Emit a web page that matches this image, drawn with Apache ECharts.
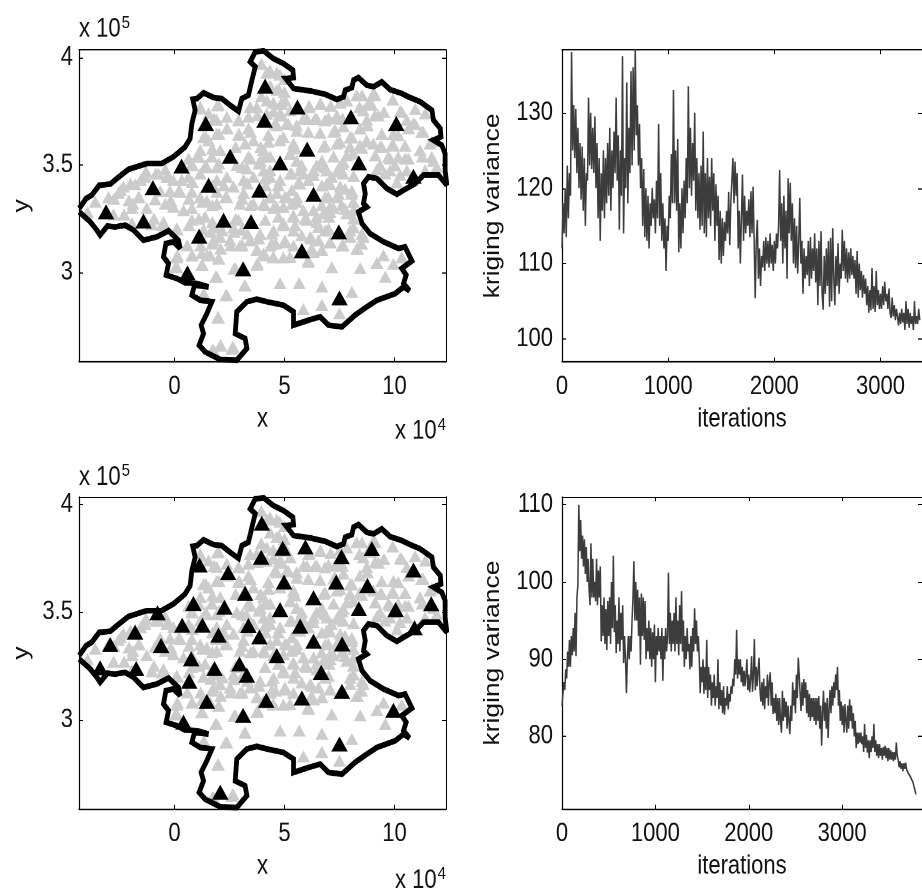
<!DOCTYPE html>
<html><head><meta charset="utf-8">
<style>html,body{margin:0;padding:0;background:#fff;width:922px;height:888px;overflow:hidden}#w{position:relative;width:922px;height:888px;overflow:hidden}#c{position:absolute;left:0;top:0;width:922px;height:740px;transform:scaleY(1.2);transform-origin:0 0}</style>
<script src="https://cdn.jsdelivr.net/npm/echarts@6/dist/echarts.min.js"></script>
</head><body><div id="w"><div id="c"></div></div>
<script>
const mapXTicks=[0,5,10], mapYTicks=[3,3.5,4];
const iterTicks=[0,1000,2000,3000];
const varTicksA=[100,110,120,130], varTicksB=[80,90,100,110];
const iterStep=10;
const boundary=[[-4.33,3.298],[-4.02,3.344],[-3.76,3.36],[-3.42,3.406],[-2.92,3.411],[-2.62,3.437],[-2.09,3.48],[-1.26,3.507],[-0.58,3.507],[-0.05,3.538],[0.48,3.584],[0.71,3.623],[0.79,3.693],[0.94,3.755],[0.83,3.806],[1.02,3.809],[1.32,3.836],[1.77,3.814],[2.15,3.809],[2.53,3.778],[2.91,3.75],[3.06,3.809],[3.36,3.825],[3.52,3.895],[3.67,3.957],[3.44,3.98],[3.67,4.026],[4.05,4.031],[4.5,3.995],[4.95,3.972],[5.38,3.941],[5.41,3.907],[5.06,3.902],[5.41,3.856],[6.17,3.845],[6.85,3.829],[7.38,3.805],[7.68,3.817],[7.76,3.848],[8.06,3.86],[8.14,3.895],[8.36,3.907],[8.74,3.871],[9.05,3.864],[9.42,3.887],[9.8,3.851],[10.33,3.833],[10.64,3.817],[11.17,3.794],[11.7,3.755],[11.77,3.709],[12.08,3.67],[12.11,3.631],[11.77,3.616],[12.15,3.592],[12.3,3.553],[12.3,3.476],[12.38,3.406],[12.0,3.453],[11.32,3.453],[10.94,3.414],[10.41,3.383],[10.11,3.364],[9.65,3.391],[9.2,3.437],[8.82,3.445],[8.59,3.414],[8.67,3.367],[8.59,3.321],[8.74,3.305],[8.36,3.282],[8.52,3.228],[8.89,3.181],[9.5,3.143],[10.18,3.112],[10.48,3.119],[10.79,3.054],[10.33,3.019],[10.53,2.988],[10.41,2.949],[10.68,2.915],[10.41,2.933],[10.03,2.902],[9.2,2.871],[8.74,2.84],[8.21,2.802],[7.61,2.747],[7.0,2.755],[6.62,2.794],[6.09,2.778],[5.41,2.755],[5.41,2.817],[4.95,2.848],[4.2,2.864],[3.74,2.876],[3.29,2.864],[2.83,2.817],[2.76,2.716],[3.21,2.693],[3.29,2.647],[2.83,2.592],[2.08,2.595],[1.39,2.631],[1.12,2.662],[1.32,2.716],[1.21,2.755],[1.47,2.809],[1.7,2.864],[1.17,2.871],[0.79,2.895],[0.91,2.941],[1.55,2.933],[1.02,2.949],[0.48,2.952],[0.11,2.972],[-0.38,2.988],[-0.27,3.042],[-0.5,3.073],[-0.39,3.135],[-0.05,3.143],[0.26,3.112],[0.18,3.15],[-0.27,3.194],[-0.8,3.166],[-1.41,3.15],[-1.86,3.197],[-2.24,3.22],[-2.7,3.212],[-3.05,3.216],[-3.38,3.174],[-3.53,3.197],[-3.83,3.236],[-4.33,3.282]];
const grayPoints=[[-3.95,3.28],[-3.6,3.33],[-2.77,3.27],[-3.0,3.35],[-2.55,3.37],[-2.32,3.4],[-1.79,3.41],[-1.33,3.445],[-1.89,3.32],[-2.29,3.27],[-1.64,3.35],[-1.26,3.3],[-0.88,3.34],[-0.42,3.32],[-0.65,3.38],[-0.2,3.38],[-0.05,3.305],[-0.5,3.235],[-1.03,3.225],[-1.94,3.23],[0.1,3.205],[0.41,3.29],[0.79,3.3],[0.26,3.375],[0.79,3.375],[0.33,3.43],[-0.35,3.445],[-0.73,3.46],[-1.3,3.47],[-0.42,3.48],[-0.05,3.43],[0.64,3.445],[0.79,3.505],[1.02,3.54],[0.64,3.53],[1.17,3.46],[1.17,3.35],[1.47,3.335],[1.92,3.375],[2.38,3.35],[1.92,3.43],[2.38,3.445],[2.68,3.4],[3.14,3.43],[3.59,3.445],[3.14,3.37],[2.98,3.32],[1.92,3.32],[1.39,3.26],[0.79,3.245],[1.32,3.2],[1.85,3.21],[2.91,3.245],[2.68,3.21],[3.06,3.2],[1.77,3.15],[2.08,3.165],[2.53,3.15],[2.98,3.125],[3.44,3.15],[3.89,3.18],[3.74,3.105],[4.35,3.125],[4.5,3.07],[4.12,3.08],[5.03,3.14],[4.95,3.07],[5.41,3.125],[6.09,3.05],[6.32,3.095],[6.7,3.105],[7.08,3.14],[7.61,3.125],[8.32,3.11],[8.52,3.18],[8.14,3.21],[8.14,3.29],
[0.11,3.07],[0.79,3.08],[1.24,3.035],[0.11,3.025],[1.24,3.09],[1.62,3.08],[2.0,3.065],[2.76,3.02],[1.92,2.98],[3.21,2.94],[2.38,2.895],[4.8,2.95],[5.67,2.95],[6.7,2.935],[8.06,2.91],[7.15,3.025],[8.44,3.02],[9.58,2.98],[9.2,3.045],[9.95,3.04],[9.5,3.08],[10.33,3.07],[5.86,2.83],[6.7,2.85],[7.5,2.81],[2.0,2.79],[2.08,2.66],[1.77,2.64],[2.6,2.645],[3.74,3.035],[1.32,2.9],
[3.95,3.97],[4.2,3.93],[4.65,3.93],[5.0,3.9],[4.35,3.87],[4.75,3.85],[5.0,3.84],[3.95,3.82],
[2.0,3.78],[1.17,3.77],[1.55,3.74],[1.92,3.71],[2.38,3.725],[2.91,3.71],[3.36,3.725],[3.74,3.77],[3.44,3.77],[4.2,3.8],[4.65,3.85],[4.83,3.785],[5.03,3.8],[5.26,3.755],[4.5,3.75],[4.88,3.73],[6.09,3.77],[6.62,3.785],[7.1,3.775],[7.53,3.79],[7.83,3.8],[8.52,3.825],[9.12,3.825],[9.92,3.805],[8.97,3.78],[8.41,3.77],[7.38,3.73],[6.47,3.715],[7.0,3.72],[6.02,3.715],[9.27,3.73],[8.74,3.71],[10.94,3.76],[10.26,3.75],[10.94,3.69],[10.56,3.71],[11.4,3.74],
[1.32,3.63],[1.92,3.645],[1.55,3.615],[2.38,3.67],[2.91,3.64],[3.36,3.67],[3.59,3.615],[3.21,3.6],[4.65,3.685],[5.18,3.69],[4.27,3.64],[4.95,3.63],[5.56,3.66],[5.41,3.6],[6.62,3.65],[7.23,3.655],[7.68,3.68],[8.06,3.63],[8.77,3.685],[8.74,3.61],[9.42,3.645],[9.95,3.645],[10.64,3.67],[11.3,3.655],[10.48,3.59],[9.88,3.59],[9.35,3.585],[11.7,3.61],[8.52,3.58],[7.98,3.585],[7.38,3.6],[6.77,3.585],
[1.17,3.57],[1.7,3.54],[2.08,3.57],[3.36,3.54],[4.05,3.57],[3.89,3.52],[4.35,3.54],[5.26,3.55],[5.56,3.52],[6.7,3.52],[7.23,3.54],[7.83,3.545],[7.61,3.505],[9.12,3.545],[9.8,3.53],[10.48,3.53],[11.26,3.54],[11.77,3.52],[11.92,3.49],[11.39,3.475],[9.2,3.48],[9.8,3.475],[10.56,3.475],[10.11,3.42],[2.83,3.5],[3.29,3.485],[4.05,3.475],[1.92,3.49],[1.47,3.49],[5.71,3.475],[6.32,3.475],[6.92,3.475],[7.45,3.47],[8.14,3.45],
[4.35,3.445],[4.8,3.43],[5.26,3.46],[5.64,3.42],[6.09,3.43],[6.7,3.405],[7.08,3.41],[7.53,3.4],[8.06,3.38],[7.38,3.35],[6.85,3.35],[5.56,3.35],[5.11,3.35],[4.65,3.37],[4.35,3.35],[4.05,3.32],[3.59,3.32],[4.5,3.3],[4.95,3.305],[5.33,3.32],[5.86,3.29],[6.32,3.29],[6.77,3.275],[7.23,3.3],[7.83,3.275],[5.41,3.26],[6.02,3.245],[4.95,3.23],[4.12,3.245],[4.5,3.195],[6.47,3.235],[7.02,3.26],[6.85,3.195],[6.17,3.165],[5.41,3.195],[7.98,3.195],[6.55,3.15],[4.59,3.135],
[4.34,3.94],[4.79,3.92],[4.49,3.79],[4.87,3.786],[6.13,3.774],[6.64,3.786],[8.28,3.825],[9.04,3.832],[8.81,3.786],[10.33,3.747],[9.52,3.747],[8.58,3.755],[9.11,3.732],[5.86,3.716],[6.39,3.716],[6.84,3.708],[7.3,3.716],[7.64,3.716],[4.79,3.739],[4.57,3.693],[5.1,3.693],[5.55,3.685],[4.19,3.739],[6.08,3.654],[7.3,3.662],[8.43,3.67],[10.17,3.639],[10.86,3.693],[11.23,3.654],[11.61,3.6],[4.27,3.608],[4.79,3.615],[5.48,3.577],[6.84,3.592],[7.52,3.608],[7.98,3.628],[8.73,3.615],[9.04,3.6],[8.43,3.592],[9.42,3.584],[9.95,3.592],[11.16,3.569],[11.69,3.538],[4.11,3.538],[4.34,3.476],[5.25,3.553],[5.78,3.499],[6.84,3.491],[6.46,3.499],[5.33,3.46],[5.86,3.46],[6.31,3.453],[6.92,3.414],[7.45,3.484],[7.67,3.515],[8.13,3.553],[9.72,3.538],[10.17,3.538],[10.63,3.53],[9.34,3.499],[10.02,3.499],[9.57,3.46],[10.25,3.453],[7.14,3.445],[7.67,3.46],[7.75,3.39],[8.05,3.367],[7.45,3.367],[6.99,3.352],[5.33,3.383],[4.72,3.406],[4.11,3.437],[4.34,3.352],[5.02,3.352],[5.7,3.414],[4.11,3.313],[4.64,3.305],[5.55,3.329],[6.69,3.313],[7.07,3.305],[7.6,3.313],[8.13,3.329],
[1.19,3.763],[1.95,3.778],[1.8,3.716],[2.4,3.67],[2.93,3.708],[2.93,3.646],[3.46,3.654],[1.42,3.631],[2.02,3.646],[3.77,3.732],[1.72,3.577],[1.11,3.538],[1.42,3.499],[2.02,3.507],[3.08,3.491],[3.46,3.53],[3.84,3.507],[3.92,3.584],[2.78,3.584],[0.81,3.499],[0.81,3.422],[0.21,3.383],[-0.25,3.445],[-0.85,3.46],[-1.54,3.43],[-2.0,3.414],[-2.45,3.383],[-2.75,3.344],[-2.07,3.336],[-1.61,3.352],[-0.17,3.336],[0.66,3.344],[1.27,3.329],[1.72,3.313],[2.33,3.352],[3.08,3.344],[2.25,3.406],[3.31,3.414],[4.14,3.406],[3.46,3.313],[1.72,3.406],
[-1.92,3.3],[-0.93,3.25],[-0.55,3.22],[0.13,3.2],[0.66,3.22],[1.11,3.25],[1.72,3.235],[1.65,3.19],[2.17,3.197],[2.78,3.25],[2.71,3.189],[3.31,3.181],[3.84,3.158],[3.08,3.127],[2.55,3.127],[2.1,3.111],[1.72,3.135],[1.19,3.127],[0.58,3.127],[0.13,3.08],[0.81,3.08],[1.49,3.08],[3.77,3.104],[2.02,3.065],[1.27,3.034],[2.71,3.018],[3.77,3.042],[0.05,3.026],[1.87,2.98],[3.19,2.941],[2.33,2.894],[1.34,2.902],[1.98,2.794],[2.1,2.662],[2.66,2.654],[1.72,2.639],
[4.49,3.073],[5.25,3.073],[6.08,3.057],[6.69,3.104],[6.23,3.111],[7.07,3.142],[7.67,3.127],[8.28,3.111],[8.51,3.135],[8.58,3.166],[7.98,3.166],[4.42,3.135],[5.02,3.15],[5.78,3.173],[6.23,3.158],[4.04,3.088],[4.42,3.181],[4.95,3.22],[5.48,3.22],[5.93,3.251],[6.46,3.259],[7.0,3.204],[6.54,3.212],[5.4,3.266],[4.72,3.259],[7.07,3.282],[7.75,3.297],[8.13,3.251]];
const blackPointsA=[[4.12,3.867],[5.59,3.77],[8.02,3.724],[10.08,3.693],[4.09,3.709],[1.42,3.693],[6.03,3.574],[2.53,3.541],[4.8,3.51],[8.38,3.51],[10.86,3.448],[0.32,3.495],[-0.98,3.395],[1.55,3.406],[3.86,3.383],[6.32,3.364],[-3.11,3.282],[-1.41,3.24],[2.23,3.243],[3.48,3.236],[7.47,3.189],[1.12,3.169],[5.79,3.101],[3.12,3.017],[0.59,2.998],[7.5,2.882]];
const blackPointsB=[[3.97,3.913],[4.92,3.797],[5.95,3.803],[8.97,3.795],[7.59,3.758],[3.94,3.755],[1.14,3.719],[2.44,3.683],[10.86,3.696],[4.98,3.64],[7.35,3.64],[8.77,3.624],[3.21,3.587],[6.32,3.567],[0.86,3.54],[2.27,3.523],[4.8,3.512],[8.38,3.516],[10.05,3.512],[11.67,3.539],[-0.77,3.497],[0.35,3.439],[1.27,3.439],[3.36,3.438],[5.71,3.435],[10.91,3.427],[-1.79,3.407],[2.0,3.393],[3.86,3.385],[6.32,3.365],[-2.92,3.349],[-0.61,3.345],[7.62,3.352],[4.65,3.298],[0.76,3.283],[2.95,3.259],[1.82,3.238],[-3.38,3.241],[-1.74,3.238],[3.29,3.207],[6.67,3.22],[0.67,3.179],[7.61,3.132],[1.47,3.085],[4.17,3.09],[5.79,3.101],[3.12,3.02],[9.95,3.043],[0.41,2.989],[7.5,2.887],[2.08,2.663]];
const varianceA=[112,118,114,120,113.5,123,116,122,119,138,
125,131,124,130.5,122,128,120,126,118.5,125.5,
117,124,115,122,121,132,123,130,122.5,128,
122,129.5,120,126,116,124,113,122,117,125,
116,124,118,126,119,128,117,125,120,127.5,
122,132,121,127,114.5,125,119,137.5,114,124,
120,134,118,128,122,135.5,123,136,125,138.5,
127,131,123,128.5,120,124,115,122.5,113.5,120,
113,119,112,118,115,120,116,118.5,114,121,
116,128.5,115,122,113,118,112,116,109,115,
113,119,116,124.5,118,133,118,125,117,126.5,
111.5,118,112,120,114,121,116,124,118,133.5,
120,128,119,126,121,130,117,124,116,122,
114.5,123,115,127.5,114,122,113.5,124,116,121.5,
115,124,117,122,113,120.5,115,119,110.5,117,
110,116,111,115.5,113,117,114,119.5,112.5,118,
118,124,118,123.5,119,122,112,117,110,116,
121.8,113,119,114,117,115,118.5,113.5,119.6,114,
120.2,113,105.4,113,115.8,108,112,107,111,109.5,
113,109,113.5,110,113,109.5,114,110,112.5,109,
113,110,114,112,115,122.4,113,118,110,119,
112,117,108,121.3,114,120.7,113,118,110,116,
109.4,115,108.7,113,118.7,110,113,106,112,108,
111,108.5,113,107,113.5,108,112,109,114,107.5,
112,104.5,113,107,114.3,106,103.9,111,106,112,
107,113,104.3,113.4,105,114.7,108,104.5,111,107,
112.7,106,110,108,114.5,109,113,108,112,107.5,
111.5,108,112,108.5,111,108,110.5,106,111.7,105.5,
110,106.5,109,105.5,108.5,106,108,104.5,107,103.5,
106.5,103.8,109.4,104,107,103.6,109,104.5,106.5,104,
106,104,107,104.5,107.6,105,106,104,106.7,103.5,
102.8,105.5,103,104.5,102.5,104,103,101.8,103.5,102,
104,102.2,103.5,101.2,105,102,104,101.5,103.5,102,
103,101.2,105,102,103,102,104,102.5];
const varianceB=[84,85.5,87,86,88.7,87.5,91,89,92.5,89,
93,90.5,94,91,96,90.4,98,99.6,110,104,
108,103,106,102,105.5,101,104.5,100,103,99,
97,105,98,103,98,100,97.5,103,97,101.5,
98,102,92.3,97,93,98,92,96.5,91.2,97.5,
93,98,92,100,94,103.4,93.5,97,90.8,95,
92,98,91,96,92.5,97,89.5,93,90,85.6,
90,93,90,93,91,95,98,102.7,95,100,
95,99,93,98,89.3,98.5,93,98,92.5,97.5,
90,94,91,95,90,94,89,93.5,90,94.5,
87,93,90.5,94,91,93,90,94,87.2,93,
90,94,91,93,101.2,92,96,91,95,92,
96,91,98,92,95,90.5,97,92,98.8,91,
95,89,93,90,94,91,92,88.7,93,89,
94,91,96.6,92,95,91,93,90,85.6,89,
87,90,85.5,89,86,92.5,85,89,86,88,
84,87,85,88,84,86.5,85,90,83.5,87,
84,86,83,86.5,82.8,85,84,86.5,83.5,85.5,
84.5,86.5,85.5,87.5,86.5,90,88,93.8,87.5,90,
88,90,87,89,86.5,88.5,86.5,88,90,86,
88,85.7,87.5,90.4,85.8,88,92.6,86,89,86.5,
88.5,90.2,86,84.5,87,84,87.5,83.5,86.5,85,
88,84,87,88.3,84,87,82.9,85,83,85.5,
82,85,81.5,85,82,80.5,85.9,82,85,82.5,
84.5,81,84,82,80.3,84,82,87,84,86,
83,88,85,90.2,88,85.5,83.3,87,84,87.4,
85,87,83,86,82.5,85.5,82,85,82.5,85,
82,85,81.5,85,82,85.2,81,84,78.8,83,
85.9,82,84.4,81,85,79.8,83.5,86,83,86.5,
84,87,85,88,86,89,84,86,82,84.5,
81.5,84,80.5,84.2,82,80.5,84,81,84.8,82,
84,81,83,80,82,78.5,80.5,79,80.5,79.2,
80.5,79,80,78,81.6,78.5,80.2,77.9,79.5,77.2,
79.5,78,80,78.5,81.6,78,79.5,77.5,79,77.2,
79,77.5,78.5,77,78.6,77.5,78.8,77.2,78.5,76.8,
78.5,77,78.2,77,78,76.8,78,77,79.2,77.5,
77,76,76.8,75.8,76.5,75.5,76.5,75.8,76.6,75.7,
76,75.2,75.5,74.8,75,74.5,74,73.5,73,72.5];

const FONT="'Liberation Sans',Arial,sans-serif";
const FS=22, INK='#111', SY=1.2;
const grids=[
 {left:79,top:50/SY,width:367,height:311.7/SY},
 {left:562,top:50/SY,width:367,height:311.7/SY},
 {left:79,top:497/SY,width:367,height:312/SY},
 {left:562,top:497/SY,width:367,height:312/SY}];
const plain=v=>String(v);
function mainX(g,min,max,ticks,name){return {type:'value',gridIndex:g,min,max,name,nameLocation:'middle',nameGap:37,
 nameTextStyle:{fontFamily:FONT,fontSize:FS,color:INK},splitLine:{show:false},
 axisLine:{show:true,onZero:false,lineStyle:{color:'#000',width:1.2}},
 axisTick:{show:true,inside:true,length:3.5,customValues:ticks,lineStyle:{color:'#000'}},
 axisLabel:{show:true,margin:10,customValues:ticks,formatter:plain,fontFamily:FONT,fontSize:FS,color:INK,hideOverlap:false}};}
function topX(g,min,max,ticks){return {type:'value',gridIndex:g,position:'top',min,max,splitLine:{show:false},
 axisLine:{show:true,onZero:false,lineStyle:{color:'#000',width:1}},
 axisTick:{show:true,inside:true,length:3.5,customValues:ticks,lineStyle:{color:'#000'}},axisLabel:{show:false}};}
function mainY(g,min,max,ticks,name,gap,margin){return {type:'value',gridIndex:g,min,max,name,nameLocation:'middle',nameGap:gap,nameRotate:90,
 nameTextStyle:{fontFamily:FONT,fontSize:FS,color:INK},splitLine:{show:false},
 axisLine:{show:true,onZero:false,lineStyle:{color:'#000',width:1.2}},
 axisTick:{show:true,inside:true,length:4,customValues:ticks,lineStyle:{color:'#000'}},
 axisLabel:{show:true,margin,customValues:ticks,formatter:plain,fontFamily:FONT,fontSize:FS,color:INK,hideOverlap:false}};}
function rightY(g,min,max,ticks){return {type:'value',gridIndex:g,position:'right',min,max,splitLine:{show:false},
 axisLine:{show:true,onZero:false,lineStyle:{color:'#000',width:1}},
 axisTick:{show:true,inside:true,length:4,customValues:ticks,lineStyle:{color:'#000'}},axisLabel:{show:false}};}
const XMIN=-4.34,XMAX=12.34,YMIN=2.585,YMAX=4.035;
const xAxis=[mainX(0,XMIN,XMAX,mapXTicks,'x'),mainX(1,0,3391,iterTicks,'iterations'),mainX(2,XMIN,XMAX,mapXTicks,'x'),mainX(3,0,3855,iterTicks,'iterations'),
 topX(0,XMIN,XMAX,mapXTicks),topX(1,0,3391,iterTicks),topX(2,XMIN,XMAX,mapXTicks),topX(3,0,3855,iterTicks)];
const yAxis=[mainY(0,YMIN,YMAX,mapYTicks,'y',46,6),mainY(1,97,138.3,varTicksA,'kriging variance',58,9),mainY(2,YMIN,YMAX,mapYTicks,'y',46,6),mainY(3,70.6,111,varTicksB,'kriging variance',58,9),
 rightY(0,YMIN,YMAX,mapYTicks),rightY(1,97,138.3,varTicksA),rightY(2,YMIN,YMAX,mapYTicks),rightY(3,70.6,111,varTicksB)];
function mapSeries(g,black){return [
 {type:'scatter',xAxisIndex:g,yAxisIndex:g,data:grayPoints,symbol:'triangle',symbolSize:[13,10],itemStyle:{color:'#cccccc',opacity:1},silent:true,z:2},
 {type:'line',xAxisIndex:g,yAxisIndex:g,data:boundary,showSymbol:false,symbol:'none',smooth:false,clip:true,lineStyle:{color:'#000',width:4.8,join:'miter',miterLimit:3},silent:true,z:3},
 {type:'scatter',xAxisIndex:g,yAxisIndex:g,data:black,symbol:'triangle',symbolSize:[16.5,12.5],itemStyle:{color:'#000',opacity:1},silent:true,z:4}];}
function varSeries(g,vals){return {type:'line',xAxisIndex:g,yAxisIndex:g,data:vals.map((v,i)=>[i*iterStep,v]),showSymbol:false,symbol:'none',clip:true,lineStyle:{color:'#3c3c3c',width:1.5},silent:true,z:3};}
function note(left,top,base,sup){return {text:base+'{s|'+sup+'}',left,top:top/SY,padding:0,textStyle:{fontFamily:FONT,fontSize:FS,fontWeight:'normal',color:INK,rich:{s:{fontFamily:FONT,fontSize:15,color:INK,padding:[0,0,11,1]}}}};}
const chart=echarts.init(document.getElementById('c'),null,{width:922,height:740,devicePixelRatio:2});
chart.setOption({animation:false,backgroundColor:'#fff',grid:grids,xAxis,yAxis,
 title:[note(79,14,'x 10','5'),note(395,416,'x 10','4'),note(79,462,'x 10','5'),note(395,865,'x 10','4')],
 series:[...mapSeries(0,blackPointsA),varSeries(1,varianceA),...mapSeries(2,blackPointsB),varSeries(3,varianceB)]});
</script></body></html>
